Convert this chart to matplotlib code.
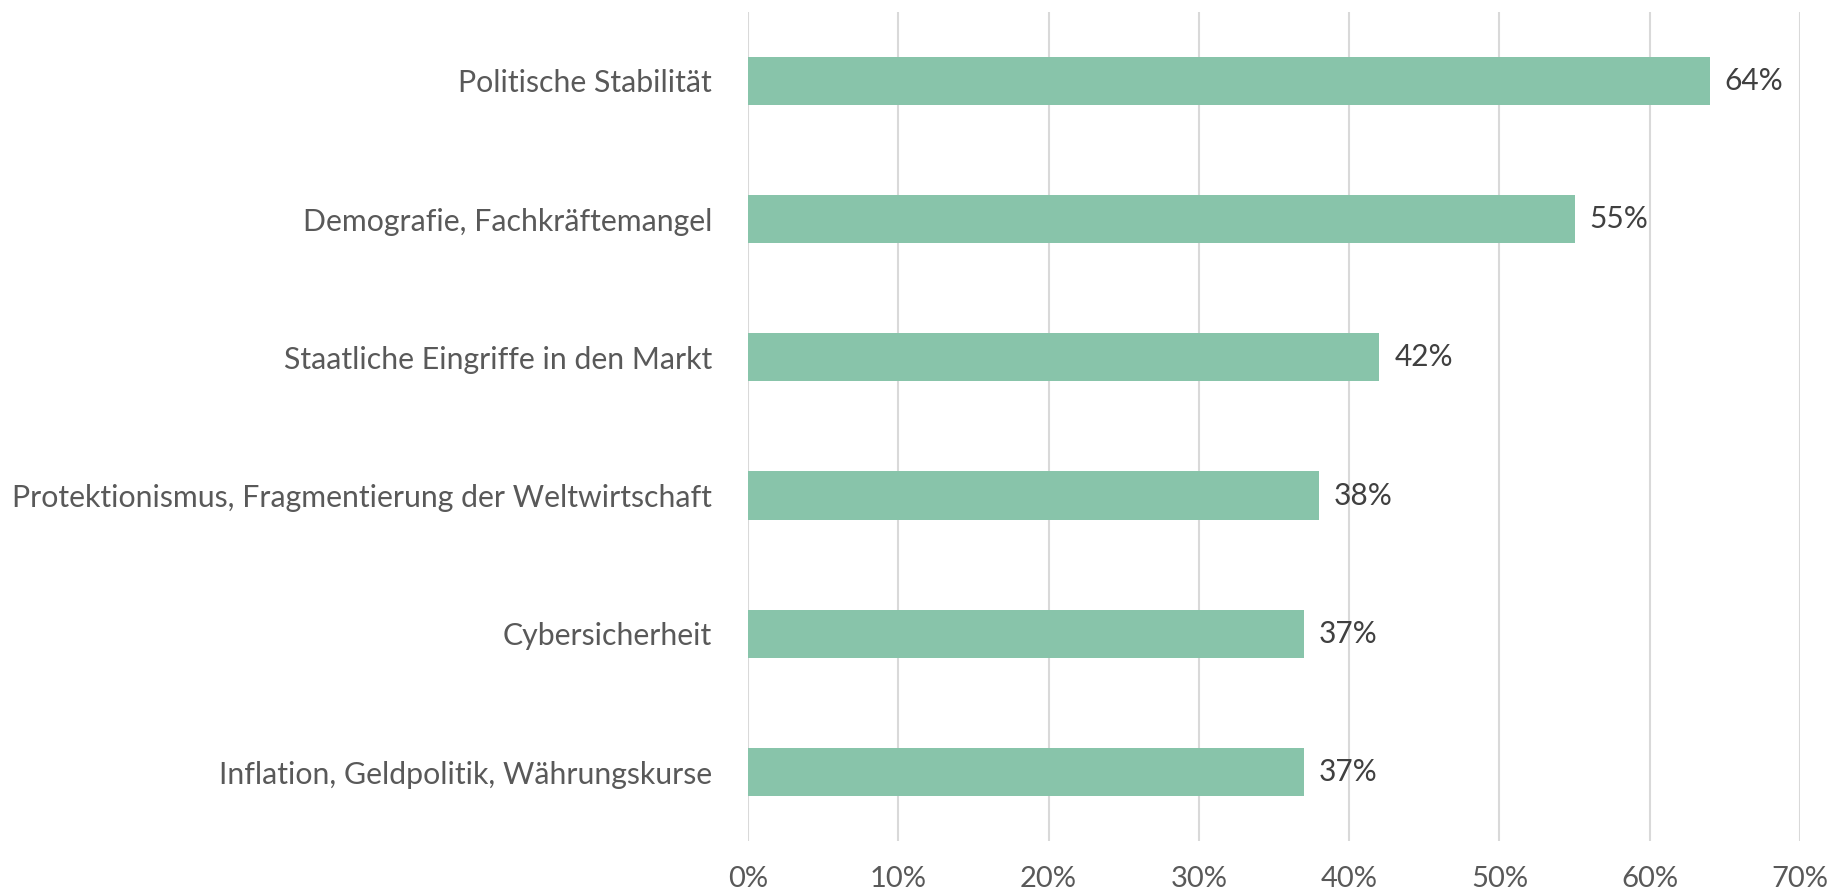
import matplotlib
matplotlib.use('Agg')
import matplotlib.pyplot as plt
from matplotlib.ticker import PercentFormatter

plt.rcParams['font.family'] = ['Lato', 'DejaVu Sans']

categories = ['Politische Stabilität',
              'Demografie, Fachkräftemangel',
              'Staatliche Eingriffe in den Markt',
              'Protektionismus, Fragmentierung der Weltwirtschaft',
              'Cybersicherheit',
              'Inflation, Geldpolitik, Währungskurse']
values = [64, 55, 42, 38, 37, 37]
xticks = [0, 10, 20, 30, 40, 50, 60, 70]

fig = plt.figure(figsize=(18.38, 8.93), dpi=100)
ax = fig.add_axes([0.407, 0.058, 0.5723, 0.929])

ypos = list(range(len(categories)))
ax.barh(ypos, values, height=0.35, color='#88C4AA', zorder=3)
for y, v in zip(ypos, values):
    ax.text(v + 1.0, y, f'{v}%', va='center', ha='left', fontsize=21.5, color='#404040')

ax.set_yticks(ypos)
ax.set_yticklabels(categories, fontsize=21.8, color='#595959')
ax.set_ylim(len(categories) - 0.5, -0.5)
ax.set_xlim(0, 70)
ax.set_xticks(xticks)
ax.xaxis.set_major_formatter(PercentFormatter(decimals=0))
ax.tick_params(axis='x', labelsize=21, labelcolor='#595959', length=0, pad=18)
ax.tick_params(axis='y', length=0, pad=26)
ax.grid(axis='x', color='#D9D9D9', linewidth=1.5, zorder=0)
for s in ax.spines.values():
    s.set_visible(False)

fig.savefig('out.png', dpi=100)
